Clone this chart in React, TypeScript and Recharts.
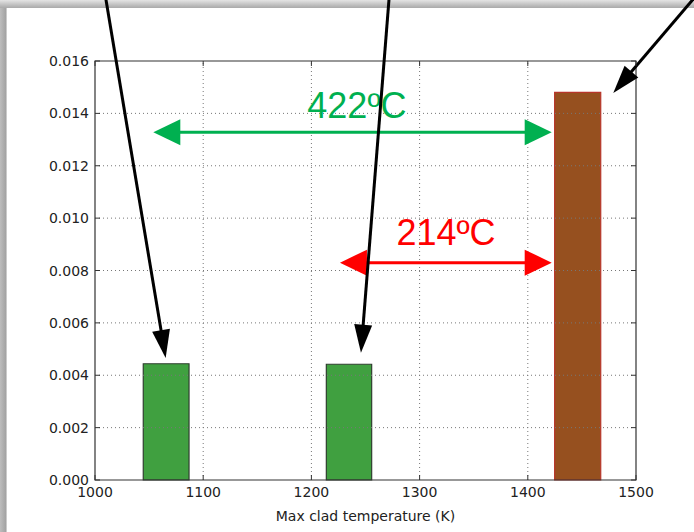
import React from 'react'
import { ComposedChart, XAxis, YAxis, ReferenceArea, ReferenceLine, ReferenceDot } from 'recharts'

// histogram bins (K) and normalised heights
const binStart = [1044.6, 1213.8, 1424.8]
const binEnd = [1086.9, 1255.7, 1467.4]
const density = [0.00444, 0.00442, 0.0148]
const binFill = ['#40a040', '#40a040', '#96501f']
const binEdge = ['#2f3f2f', '#2f3f2f', '#b8352a']

const xTicks = [1000, 1100, 1200, 1300, 1400, 1500]
const yTicks = [0, 0.002, 0.004, 0.006, 0.008, 0.01, 0.012, 0.014, 0.016]

// black pointers coming in from above the axes
const pointerFromX = [1009.5, 1272.0, 1555.7]
const pointerFromY = [0.0185, 0.0185, 0.0185]
const pointerToX = [1065.3, 1245.8, 1479.0]
const pointerToY = [0.00466, 0.00486, 0.01478]

// temperature spans
const spanLabel = ['422ºC', '214ºC']
const spanFrom = [1053.9, 1226.4]
const spanTo = [1422.1, 1422.1]
const spanY = [0.01328, 0.0083]
const labelX = [1242.1, 1324.4]
const labelY = [0.01431, 0.00947]
const spanColor = ['#00b050', '#ff0000']

const W = 694
const H = 532
const MARGIN = { top: 61, right: 58, left: 35, bottom: 0 }
const Y_AXIS_W = 60
const X_AXIS_H = 52
const PLOT_W = W - MARGIN.left - MARGIN.right - Y_AXIS_W
const PLOT_H = H - MARGIN.top - MARGIN.bottom - X_AXIS_H
const Y_GAP = 6
const X_GAP = 7
const FONT = 'DejaVu Sans, sans-serif'

const YTick = (p: any) => {
  const { x, y, payload } = p
  const ax = x + Y_GAP
  return (
    <g>
      <text x={x} y={y} dy="0.36em" textAnchor="end" fontSize={14} fontFamily={FONT} fill="#222">
        {Number(payload.value).toFixed(3)}
      </text>
      <line x1={ax} x2={ax + 5} y1={y} y2={y} stroke="#333" />
      <line x1={ax + PLOT_W - 5} x2={ax + PLOT_W} y1={y} y2={y} stroke="#333" />
    </g>
  )
}

const XTick = (p: any) => {
  const { x, y, payload } = p
  const ay = y - X_GAP
  return (
    <g>
      <text x={x} y={y} dy="0.71em" textAnchor="middle" fontSize={14} fontFamily={FONT} fill="#222">
        {payload.value}
      </text>
      <line x1={x} x2={x} y1={ay} y2={ay - 5} stroke="#333" />
      <line x1={x} x2={x} y1={ay - PLOT_H} y2={ay - PLOT_H + 5} stroke="#333" />
    </g>
  )
}

const arrow = (color: string, width: number, headLen: number, half: number, both: boolean) => (p: any) => {
  const { x1, y1, x2, y2 } = p
  const len = Math.hypot(x2 - x1, y2 - y1) || 1
  const ux = (x2 - x1) / len
  const uy = (y2 - y1) / len
  const head = (tx: number, ty: number, dx: number, dy: number) => {
    const bx = tx - dx * headLen
    const by = ty - dy * headLen
    return `${tx},${ty} ${bx - dy * half},${by + dx * half} ${bx + dy * half},${by - dx * half}`
  }
  const sx = both ? x1 + ux * headLen * 0.9 : x1
  const sy = both ? y1 + uy * headLen * 0.9 : y1
  return (
    <g>
      <line x1={sx} y1={sy} x2={x2 - ux * headLen * 0.9} y2={y2 - uy * headLen * 0.9} stroke={color} strokeWidth={width} />
      <polygon points={head(x2, y2, ux, uy)} fill={color} />
      {both && <polygon points={head(x1, y1, -ux, -uy)} fill={color} />}
    </g>
  )
}

const spanText = (text: string, color: string) => (p: any) => (
  <text x={p.cx} y={p.cy} dy="0.36em" textAnchor="middle" fontSize={36} fontFamily="Liberation Sans, Arial, sans-serif" fill={color}>
    {text}
  </text>
)

export default function App() {
  const z: any = { zIndex: 1000 }
  return (
    <div style={{ position: 'absolute', left: 0, top: 0, width: W, height: H, background: '#fff', overflow: 'hidden' }}>
      <div style={{ position: 'absolute', left: 0, top: 0, width: W, height: 8, background: 'linear-gradient(#e4e4e4, #a9a9a9)' }} />
      <div style={{ position: 'absolute', left: 0, top: 8, width: 7, height: H - 8, background: 'linear-gradient(90deg, #bdbdbd, #a4a4a4 80%, #e0e0e0)' }} />
      <div style={{ position: 'absolute', left: 0, top: 0 }}>
        <ComposedChart width={W} height={H} margin={MARGIN} data={[]}>
          <XAxis
            type="number"
            dataKey="x"
            domain={[1000, 1500]}
            ticks={xTicks}
            allowDataOverflow
            height={X_AXIS_H}
            tickSize={0}
            tickMargin={X_GAP}
            tick={XTick}
            axisLine={false}
            label={{ value: 'Max clad temperature (K)', position: 'insideBottom', offset: 11, fontSize: 14, fontFamily: FONT, fill: '#222' }}
          />
          <YAxis
            type="number"
            domain={[0, 0.016]}
            ticks={yTicks}
            allowDataOverflow
            width={Y_AXIS_W}
            tickSize={0}
            tickMargin={Y_GAP}
            tick={YTick}
            axisLine={false}
          />
          {density.map((d, i) => (
            <ReferenceArea
              key={'bin' + i}
              x1={binStart[i]}
              x2={binEnd[i]}
              y1={0}
              y2={d}
              fill={binFill[i]}
              fillOpacity={1}
              stroke={binEdge[i]}
              strokeWidth={1.2}
              ifOverflow="visible"
            />
          ))}
          {xTicks.slice(1, -1).map((v) => (
            <ReferenceLine key={'gx' + v} x={v} stroke="#777" strokeDasharray="1 3" {...z} />
          ))}
          {yTicks.slice(1, -1).map((v) => (
            <ReferenceLine key={'gy' + v} y={v} stroke="#777" strokeDasharray="1 3" {...z} />
          ))}
          <ReferenceArea x1={1000} x2={1500} y1={0} y2={0.016} fill="none" stroke="#333" strokeWidth={1.2} ifOverflow="visible" />
          {spanLabel.map((t, i) => (
            <ReferenceLine
              key={'span' + i}
              segment={[{ x: spanFrom[i], y: spanY[i] }, { x: spanTo[i], y: spanY[i] }]}
              ifOverflow="visible"
              shape={arrow(spanColor[i], 3, 27, 13, true)}
              {...z}
            />
          ))}
          {spanLabel.map((t, i) => (
            <ReferenceDot key={'lab' + i} x={labelX[i]} y={labelY[i]} r={0} ifOverflow="visible" shape={spanText(t, spanColor[i])} {...z} />
          ))}
          {pointerToX.map((tx, i) => (
            <ReferenceLine
              key={'ptr' + i}
              segment={[{ x: pointerFromX[i], y: pointerFromY[i] }, { x: tx, y: pointerToY[i] }]}
              ifOverflow="visible"
              shape={arrow('#000', 3, 28, 9, false)}
              {...z}
            />
          ))}
        </ComposedChart>
      </div>
    </div>
  )
}
